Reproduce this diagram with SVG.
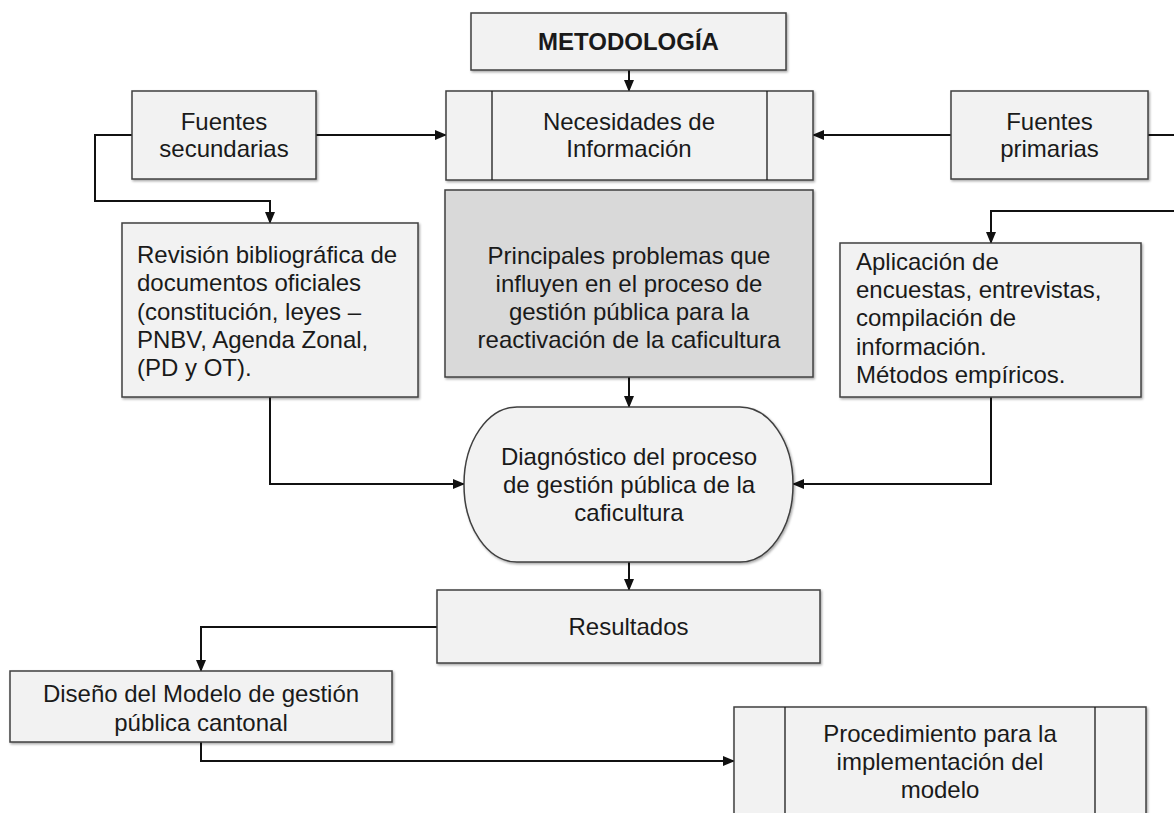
<svg xmlns="http://www.w3.org/2000/svg" width="1174" height="813" viewBox="0 0 1174 813">
<style>
  .box { fill: #f2f2f2; stroke: #404040; stroke-width: 1.5; filter: url(#sh); }
  .dark { fill: #d9d9d9; }
  .inner { stroke: #1a1a1a; stroke-width: 1.3; fill: none; }
  .t { font-family: "Liberation Sans", Arial, sans-serif; font-size: 24px; fill: #1a1a1a; }
  .c { text-anchor: middle; }
  .b { font-weight: bold; }
  .conn path { fill: none; stroke: #111; stroke-width: 2; marker-end: url(#ah); }
</style>
<defs>
  <filter id="sh" x="-5%" y="-5%" width="110%" height="115%">
    <feDropShadow dx="1.2" dy="1.5" stdDeviation="0.8" flood-color="#000" flood-opacity="0.35"/>
  </filter>
  <marker id="ah" markerWidth="12" markerHeight="10" refX="11" refY="5" orient="auto" markerUnits="userSpaceOnUse">
    <path d="M0,0 L12,5 L0,10 Z" fill="#111"/>
  </marker>
</defs>
<rect width="1174" height="813" fill="#fff"/>

<g class="conn" id="connectors">
  <path d="M629,70 V91"/>
  <path d="M316,135 H446"/>
  <path d="M132,135 H95 V201 H270 V223"/>
  <path d="M951,135 H813"/>
  <path d="M1148,135 H1185 V211 H991 V243"/>
  <path d="M629,377 V407"/>
  <path d="M270,397 V484 H464"/>
  <path d="M991,397 V484 H793"/>
  <path d="M629,562 V590"/>
  <path d="M437,627 H201 V671"/>
  <path d="M201,742 V761 H734"/>
</g>

<g id="metodologia">
  <rect class="box" x="471" y="13" width="315" height="57"/>
  <text class="t c b" x="628.5" y="50">METODOLOGÍA</text>
</g>

<g id="necesidades">
  <rect class="box" x="446" y="91" width="367" height="89"/>
  <line class="inner" x1="492" y1="91" x2="492" y2="180"/>
  <line class="inner" x1="767" y1="91" x2="767" y2="180"/>
  <text class="t c" x="629" y="130">Necesidades de</text>
  <text class="t c" x="629" y="157">Información</text>
</g>

<g id="fuentes-secundarias">
  <rect class="box" x="132" y="91" width="184" height="88"/>
  <text class="t c" x="224" y="130">Fuentes</text>
  <text class="t c" x="224" y="157">secundarias</text>
</g>

<g id="fuentes-primarias">
  <rect class="box" x="951" y="91" width="197" height="88"/>
  <text class="t c" x="1049.5" y="130">Fuentes</text>
  <text class="t c" x="1049.5" y="157">primarias</text>
</g>

<g id="revision">
  <rect class="box" x="122" y="223" width="296" height="174"/>
  <text class="t" x="137" y="263">Revisión bibliográfica de</text>
  <text class="t" x="137" y="291">documentos oficiales</text>
  <text class="t" x="137" y="320">(constitución, leyes –</text>
  <text class="t" x="137" y="348">PNBV, Agenda Zonal,</text>
  <text class="t" x="137" y="376">(PD y OT).</text>
</g>

<g id="principales">
  <rect class="box dark" x="445" y="190" width="368" height="187"/>
  <text class="t c" x="629" y="264">Principales problemas que</text>
  <text class="t c" x="629" y="292">influyen en el proceso de</text>
  <text class="t c" x="629" y="320">gestión pública para la</text>
  <text class="t c" x="629" y="348">reactivación de la caficultura</text>
</g>

<g id="aplicacion">
  <rect class="box" x="840" y="243" width="301" height="154"/>
  <text class="t" x="856" y="270">Aplicación de</text>
  <text class="t" x="856" y="298">encuestas, entrevistas,</text>
  <text class="t" x="856" y="326">compilación de</text>
  <text class="t" x="856" y="355">información.</text>
  <text class="t" x="856" y="383">Métodos empíricos.</text>
</g>

<g id="diagnostico">
  <rect class="box" x="464" y="407" width="329" height="155" rx="53" ry="77"/>
  <text class="t c" x="629" y="465">Diagnóstico del proceso</text>
  <text class="t c" x="629" y="493">de gestión pública de la</text>
  <text class="t c" x="629" y="521">caficultura</text>
</g>

<g id="resultados">
  <rect class="box" x="437" y="590" width="383" height="73"/>
  <text class="t c" x="628.5" y="635">Resultados</text>
</g>

<g id="diseno">
  <rect class="box" x="10" y="671" width="382" height="71"/>
  <text class="t c" x="201" y="702">Diseño del Modelo de gestión</text>
  <text class="t c" x="201" y="731">pública cantonal</text>
</g>

<g id="procedimiento">
  <rect class="box" x="734" y="707" width="412" height="130"/>
  <line class="inner" x1="785" y1="707" x2="785" y2="837"/>
  <line class="inner" x1="1095" y1="707" x2="1095" y2="837"/>
  <text class="t c" x="940" y="742">Procedimiento para la</text>
  <text class="t c" x="940" y="770">implementación del</text>
  <text class="t c" x="940" y="798">modelo</text>
</g>
</svg>
